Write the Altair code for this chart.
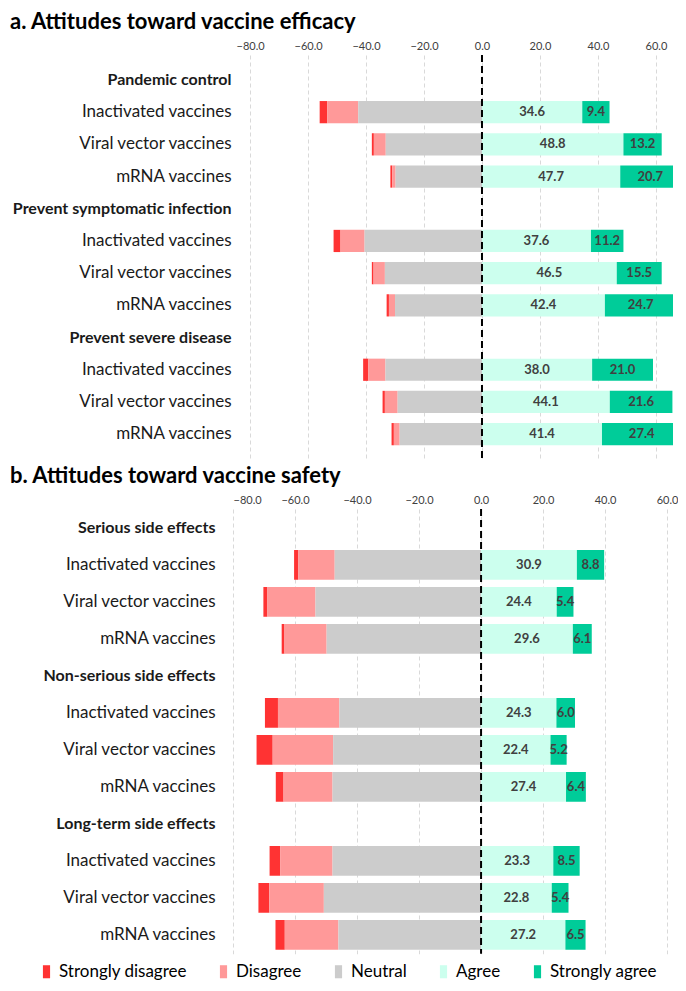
import altair as alt
import pandas as pd

# ---------------- data ----------------
levels = ["Strongly disagree", "Disagree", "Neutral", "Agree", "Strongly agree"]
colors = ["#FF3333", "#FF9999", "#CCCCCC", "#CCFFEE", "#00CC99"]
vaccines = ["Inactivated vaccines", "Viral vector vaccines", "mRNA vaccines"]

groups_a = ["Pandemic control", "Prevent symptomatic infection", "Prevent severe disease"]
groups_b = ["Serious side effects", "Non-serious side effects", "Long-term side effects"]

# panel a (efficacy), rows in order: group x vaccine
a_strong_dis = [2.6, 0.7, 0.6, 2.4, 0.6, 0.8, 1.8, 0.8, 0.8]
a_dis = [10.7, 4.1, 1.2, 8.3, 3.9, 2.1, 5.9, 4.4, 2.0]
a_neutral = [42.7, 33.2, 29.8, 40.5, 33.5, 30.0, 33.3, 29.1, 28.4]
a_agree = [34.6, 48.8, 47.7, 37.6, 46.5, 42.4, 38.0, 44.1, 41.4]
a_strong_agree = [9.4, 13.2, 20.7, 11.2, 15.5, 24.7, 21.0, 21.6, 27.4]

# panel b (safety)
b_strong_dis = [1.3, 1.3, 0.9, 4.2, 5.2, 2.5, 3.4, 3.5, 3.0]
b_dis = [11.8, 15.5, 13.6, 19.8, 19.5, 15.8, 16.9, 17.6, 17.3]
b_neutral = [47.2, 53.4, 49.8, 45.7, 47.7, 47.9, 47.9, 50.7, 46.0]
b_agree = [30.9, 24.4, 29.6, 24.3, 22.4, 27.4, 23.3, 22.8, 27.2]
b_strong_agree = [8.8, 5.4, 6.1, 6.0, 5.2, 6.4, 8.5, 5.4, 6.5]

ticks = [-80, -60, -40, -20, 0, 20, 40, 60]
FONT = "Lato"
LABEL_W = 225


def build(groups, sd, d, n, a, sa):
    rows = []
    keys = []
    i = 0
    for g in groups:
        keys.append(g)
        for v in vaccines:
            key = g + "|" + v
            keys.append(key)
            segs = [
                (levels[0], -(n[i] + d[i] + sd[i]), -(n[i] + d[i]), sd[i]),
                (levels[1], -(n[i] + d[i]), -n[i], d[i]),
                (levels[2], -n[i], 0.0, n[i]),
                (levels[3], 0.0, a[i], a[i]),
                (levels[4], a[i], a[i] + sa[i], sa[i]),
            ]
            for lev, x0, x1, val in segs:
                rows.append({"row": key, "level": lev, "x0": x0, "x1": x1,
                             "val": val, "mid": (x0 + x1) / 2,
                             "lab": lev in ("Agree", "Strongly agree")})
            i += 1
    return pd.DataFrame(rows), keys


def panel(df, keys, title, dmin, dmax, width, step, pin, pout, lpad):
    color = alt.Color("level:N", scale=alt.Scale(domain=levels, range=colors),
                      legend=alt.Legend(title=None, orient="none", direction="horizontal",
                                        legendX=-195, legendY=908,
                                        labelFont=FONT, labelFontSize=17, labelColor="#000000",
                                        symbolType="M-0.55,-1H0.55V1H-0.55Z", symbolSize=170,
                                        symbolStrokeWidth=0, columnPadding=28, labelOffset=4,
                                        labelLimit=300))
    xs = alt.Scale(domain=[dmin, dmax], nice=False, zero=False)
    xaxis = alt.Axis(orient="top", values=ticks, format=".1f", title=None,
                     domain=False, ticks=False, labelFont=FONT, labelFontSize=11,
                     labelColor="#404040", labelPadding=4,
                     grid=True, gridDash=[4, 3], gridColor="#D9D9D9", gridWidth=1)
    is_head = "indexof(datum.value,'|')<0"
    yaxis = alt.Axis(title=None, domain=False, ticks=False, grid=False,
                     labelFont=FONT, labelColor="#1a1a1a",
                     labelPadding=lpad, labelLimit=400,
                     minExtent=LABEL_W, maxExtent=LABEL_W,
                     labelExpr="indexof(datum.label,'|')>=0 ? split(datum.label,'|')[1] : datum.label",
                     labelFontSize={"condition": {"test": is_head, "value": 16}, "value": 17},
                     labelFontWeight={"condition": {"test": is_head, "value": "bold"},
                                      "value": "normal"})
    ys = alt.Scale(domain=keys, paddingInner=pin, paddingOuter=pout)

    base = alt.Chart(df)
    bars = base.mark_bar(clip=True).encode(
        x=alt.X("x0:Q", scale=xs, axis=xaxis),
        x2="x1:Q",
        y=alt.Y("row:N", scale=ys, axis=yaxis, sort=keys),
        color=color,
    )
    text = base.transform_filter("datum.lab").mark_text(
        font=FONT, fontSize=13, fontWeight="bold", color="#404040", clip=True
    ).encode(
        x=alt.X("mid:Q", scale=xs),
        y=alt.Y("row:N", scale=ys, sort=keys),
        text=alt.Text("val:Q", format=".1f"),
    )
    zero = alt.Chart(pd.DataFrame({"z": [0]})).mark_rule(
        color="#000000", strokeDash=[7, 4], strokeWidth=2
    ).encode(x=alt.X("z:Q", scale=xs))
    return alt.layer(bars, zero, text).properties(
        width=width, height=alt.Step(step),
        title=alt.TitleParams(title, anchor="start", frame="group", dx=-(LABEL_W - 2),
                              font=FONT, fontSize=22, fontWeight="bold",
                              color="#000000", offset=6),
    )


df_a, keys_a = build(groups_a, a_strong_dis, a_dis, a_neutral, a_agree, a_strong_agree)
df_b, keys_b = build(groups_b, b_strong_dis, b_dis, b_neutral, b_agree, b_strong_agree)

pa = panel(df_a, keys_a, "a. Attitudes toward vaccine efficacy",
           -85.9, 65.9, 440, 32.2, 0.31, 0.43, 2)
pb = panel(df_b, keys_b, "b. Attitudes toward vaccine safety",
           -80, 61.9, 440, 37.0, 0.2, 0.11, 18)

chart = alt.vconcat(pa, pb, spacing=4).resolve_scale(x="independent").properties(
    padding={"top": 3, "left": 0, "right": 0, "bottom": 0}
).configure_view(stroke=None)

chart.save("out.html", embed_options={"renderer": "svg", "actions": False})
